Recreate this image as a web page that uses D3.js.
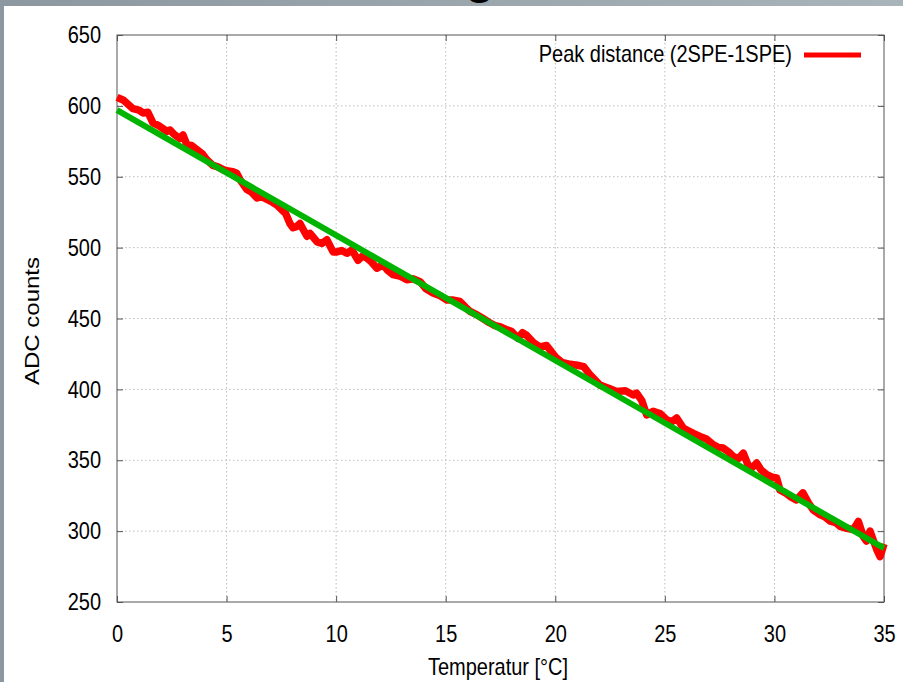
<!DOCTYPE html>
<html>
<head>
<meta charset="utf-8">
<script src="https://cdn.jsdelivr.net/npm/d3@7.9.0/dist/d3.min.js"></script>
<style>
  body { margin: 0; background: #fff; }
  svg { display: block; font-family: 'Liberation Sans', Arial, sans-serif; }
</style>
</head>
<body>
<svg id="chart" width="903" height="682"></svg>
<script>
const temps = [0, 0.3, 0.73, 1.0, 1.19, 1.41, 1.64, 1.9, 2.28, 2.42, 2.6, 2.87, 3.01, 3.19, 3.4, 3.65, 3.9, 4.1, 4.38, 4.6, 4.84,
  5.08, 5.29, 5.46, 5.61, 5.93, 6.15, 6.39, 6.6, 6.85, 7.1, 7.3, 7.53, 7.7, 7.89, 8.03, 8.21, 8.35, 8.49, 8.67, 8.81,
  9.13, 9.35, 9.58, 9.86, 10.04, 10.25, 10.49, 10.72, 11.0, 11.2, 11.41, 11.6, 11.86, 12.14, 12.35, 12.59, 12.9, 13.23,
  13.5, 13.83, 14.1, 14.42, 14.75, 15.06, 15.35, 15.65, 15.9, 16.11, 16.43, 16.7, 17.0, 17.25, 17.5, 17.8, 18.0, 18.3,
  18.5, 18.7, 19.0, 19.3, 19.6, 19.8, 20.0, 20.3, 20.6, 21.0, 21.3, 21.6, 22.04, 22.4, 22.8, 23.2, 23.56, 23.71, 23.95,
  24.17, 24.47, 24.78, 25.08, 25.3, 25.54, 25.84, 26.05, 26.3, 26.6, 26.9, 27.2, 27.45, 27.66, 27.9, 28.12, 28.35,
  28.58, 28.88, 29.19, 29.4, 29.65, 29.9, 30.1, 30.25, 30.5, 30.71, 31.0, 31.3, 31.55, 31.77, 32.08, 32.3, 32.54,
  32.8, 33.0, 33.3, 33.6, 33.83, 34.06, 34.2, 34.36, 34.55, 34.67, 34.82, 35.0];
const adc = [606, 604, 598, 597, 595, 595.5, 588, 586, 582, 583, 580, 577, 579.5, 572.5, 572, 569, 566, 562, 558, 557, 555,
  554, 553.6, 552.5, 548, 541, 539, 535, 536, 534, 532, 530, 526.6, 524, 517, 514, 515, 517, 513, 508, 510,
  504, 503, 505.5, 497, 497, 498, 496, 498.4, 491, 494, 492.6, 490, 485.5, 488, 484, 481, 480, 477.3,
  478, 476, 471, 468, 466, 463, 463, 462, 458, 455, 452.6, 450, 447, 445, 444, 442, 441, 436,
  440, 438, 433, 430, 431, 427, 423, 419, 418, 417, 416, 410, 403, 401, 398.5, 399, 396, 397.4, 392,
  382, 384.5, 383, 378.6, 377, 379.8, 372.7, 371, 369, 366.8, 365, 361, 359, 358.6, 356, 352.7, 351,
  355, 343.4, 348, 343, 339.8, 338, 337.5, 329, 327, 324.5, 322, 327, 320, 315, 311.6, 310, 307,
  306, 303.4, 302, 301, 306.8, 296, 293, 300, 292, 287, 282, 291];

// linear fit (green)
const fitTemps = [0, 35];
const fitAdc = [597, 288];

const xTicks = [0, 5, 10, 15, 20, 25, 30, 35];
const yTicks = [250, 300, 350, 400, 450, 500, 550, 600, 650];

const svg = d3.select('#chart');
const W = 903, H = 682;
const plotLeft = 117, plotRight = 884, plotTop = 35, plotBottom = 602;
const stretch = 1.2; // text in the picture is a bit taller than it is wide

const x = d3.scaleLinear().domain([0, 35]).range([plotLeft, plotRight]);
const y = d3.scaleLinear().domain([250, 650]).range([plotBottom, plotTop]);

// slide background + frame bits
svg.append('rect').attr('width', W).attr('height', H).attr('fill', '#fff');
const grad = svg.append('defs').append('linearGradient').attr('id', 'topg');
grad.append('stop').attr('offset', '0%').attr('stop-color', '#8c979f');
grad.append('stop').attr('offset', '100%').attr('stop-color', '#a9b3ba');
svg.append('rect').attr('x', 0).attr('y', 0).attr('width', W).attr('height', 6).attr('fill', 'url(#topg)');
svg.append('rect').attr('x', 0).attr('y', 0).attr('width', 4).attr('height', H).attr('fill', '#8d979f');
// bit of the slide title poking in at the top
svg.append('text').attr('x', 480).attr('y', -7).attr('text-anchor', 'middle')
  .attr('font-size', 48).attr('font-weight', 'bold').attr('fill', '#000').text('g');

// grid
const grid = svg.append('g');
grid.selectAll('line.gx').data(xTicks.slice(1, -1)).join('line')
  .attr('x1', d => x(d)).attr('x2', d => x(d)).attr('y1', plotTop).attr('y2', plotBottom)
  .attr('stroke', '#bdbdbd').attr('stroke-dasharray', '1.5,2.5');
grid.selectAll('line.gy').data(yTicks.slice(1, -1)).join('line')
  .attr('x1', plotLeft).attr('x2', plotRight).attr('y1', d => y(d)).attr('y2', d => y(d))
  .attr('stroke', '#bdbdbd').attr('stroke-dasharray', '1.5,2.5');

// axes with inward ticks
function styleAxis(g) {
  g.select('.domain').remove();
  g.selectAll('.tick line').attr('stroke', '#555');
  g.selectAll('.tick text').attr('fill', '#000').attr('font-size', 20)
    .attr('font-family', "'Liberation Sans', Arial, sans-serif")
    .attr('transform', `scale(1,${stretch})`);
}
svg.append('g').attr('transform', `translate(${plotLeft},0)`)
  .call(d3.axisLeft(y).tickValues(yTicks).tickSize(-6).tickPadding(16)).call(styleAxis);
svg.append('g').attr('transform', `translate(${plotRight},0)`)
  .call(d3.axisRight(y).tickValues(yTicks).tickSize(-6).tickFormat('')).call(styleAxis);
svg.append('g').attr('transform', `translate(0,${plotBottom})`)
  .call(d3.axisBottom(x).tickValues(xTicks).tickSize(-6).tickPadding(19)).call(styleAxis);
svg.append('g').attr('transform', `translate(0,${plotTop})`)
  .call(d3.axisTop(x).tickValues(xTicks).tickSize(-6).tickFormat('')).call(styleAxis);

svg.append('rect').attr('x', plotLeft).attr('y', plotTop)
  .attr('width', plotRight - plotLeft).attr('height', plotBottom - plotTop)
  .attr('fill', 'none').attr('stroke', '#555').attr('stroke-width', 1);

// data
const redData = temps.map((t, i) => [t, adc[i]]);
const fitData = fitTemps.map((t, i) => [t, fitAdc[i]]);
const line = d3.line().x(d => x(d[0])).y(d => y(d[1]));

svg.append('path').datum(redData).attr('d', line)
  .attr('fill', 'none').attr('stroke', '#ff0000').attr('stroke-width', 7.5).attr('stroke-linejoin', 'round');
svg.append('path').datum(fitData).attr('d', line)
  .attr('fill', 'none').attr('stroke', '#00b400').attr('stroke-width', 6);

// legend
svg.append('text').attr('transform', `translate(792,62) scale(1,${stretch})`).attr('text-anchor', 'end')
  .attr('font-size', 20).attr('fill', '#000').text('Peak distance (2SPE-1SPE)');
svg.append('line').attr('x1', 804).attr('x2', 861).attr('y1', 55).attr('y2', 55)
  .attr('stroke', '#ff0000').attr('stroke-width', 5);

// axis titles
svg.append('text').attr('transform', `translate(498,675) scale(1,${stretch})`).attr('text-anchor', 'middle')
  .attr('font-size', 20).attr('fill', '#000').text('Temperatur [°C]');
svg.append('text').attr('transform', `translate(39,321) rotate(-90) scale(${stretch},1)`).attr('text-anchor', 'middle')
  .attr('font-size', 20).attr('fill', '#000').text('ADC counts');
</script>
</body>
</html>
